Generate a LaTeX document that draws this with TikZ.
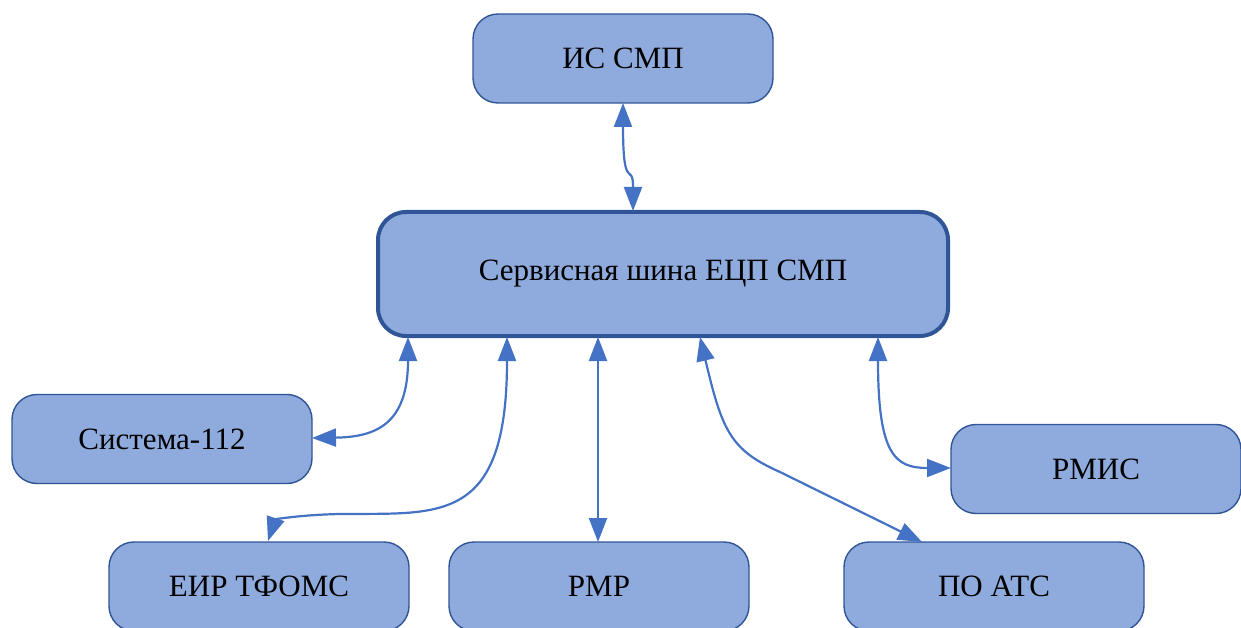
\documentclass[tikz,border=0pt]{standalone}
\usepackage{fontspec}
\setmainfont{Liberation Serif}
\usetikzlibrary{arrows.meta}
\definecolor{boxfill}{HTML}{8FAADC}
\definecolor{boxline}{HTML}{2F5597}
\definecolor{arrowc}{HTML}{4472C4}
\tikzset{
  sysbox/.style={draw=boxline, fill=boxfill, line width=1.4pt, rounded corners=25pt,
    minimum width=300pt, minimum height=89pt, inner sep=0pt, font=\fontsize{31}{34}\selectfont},
  mainbox/.style={draw=boxline, fill=boxfill, line width=4pt, rounded corners=28pt,
    minimum width=570pt, minimum height=124pt, inner sep=0pt, font=\fontsize{31}{34}\selectfont},
  link/.style={draw=arrowc, line width=2.2pt,
    {Triangle[length=24pt,width=18pt]}-{Triangle[length=24pt,width=18pt]}}
}
\begin{document}
\begin{tikzpicture}[x=1pt,y=-1pt]
\useasboundingbox (0,0) rectangle (1241,628);
\clip (0,0) rectangle (1241,628);
\node[sysbox] (is) at (623,58.5) {ИС СМП};
\node[mainbox] (bus) at (663,274) {Сервисная шина ЕЦП СМП};
\node[sysbox] (s112) at (162,439) {Система-112};
\node[sysbox, minimum width=290pt] (rmis) at (1096,469) {РМИС};
\node[sysbox] (eir) at (259,586.5) {ЕИР ТФОМС};
\node[sysbox] (rmr) at (599,586.5) {РМР};
\node[sysbox] (ats) at (994,586.5) {ПО АТС};

\coordinate (isb) at (623,103);
\coordinate (bt0) at (633,211);
\coordinate (bb1) at (408,337);
\coordinate (bb2) at (507,337);
\coordinate (bb3) at (598,337);
\coordinate (bb4) at (700,337);
\coordinate (bb5) at (878,337);
\coordinate (s112r) at (312,438);
\coordinate (eirt) at (268,541);
\coordinate (rmrt) at (598,542);
\coordinate (atst) at (922,542);
\coordinate (rmisl) at (951,468);

\draw[link] (isb) .. controls (623,195) and (633,160) .. (bt0);
\draw[link] (bb1) .. controls (408,425) and (375,437) .. (s112r);
\draw[link] (bb2) .. controls (507,525) and (440,513) .. (340,514) .. controls (295,515) and (275,520) .. (eirt);
\draw[link] (bb3) -- (rmrt);
\draw[link] (bb4) .. controls (722,430) and (730,450) .. (780,472) -- (atst);
\draw[link] (bb5) .. controls (878,455) and (895,468) .. (rmisl);
\end{tikzpicture}
\end{document}
